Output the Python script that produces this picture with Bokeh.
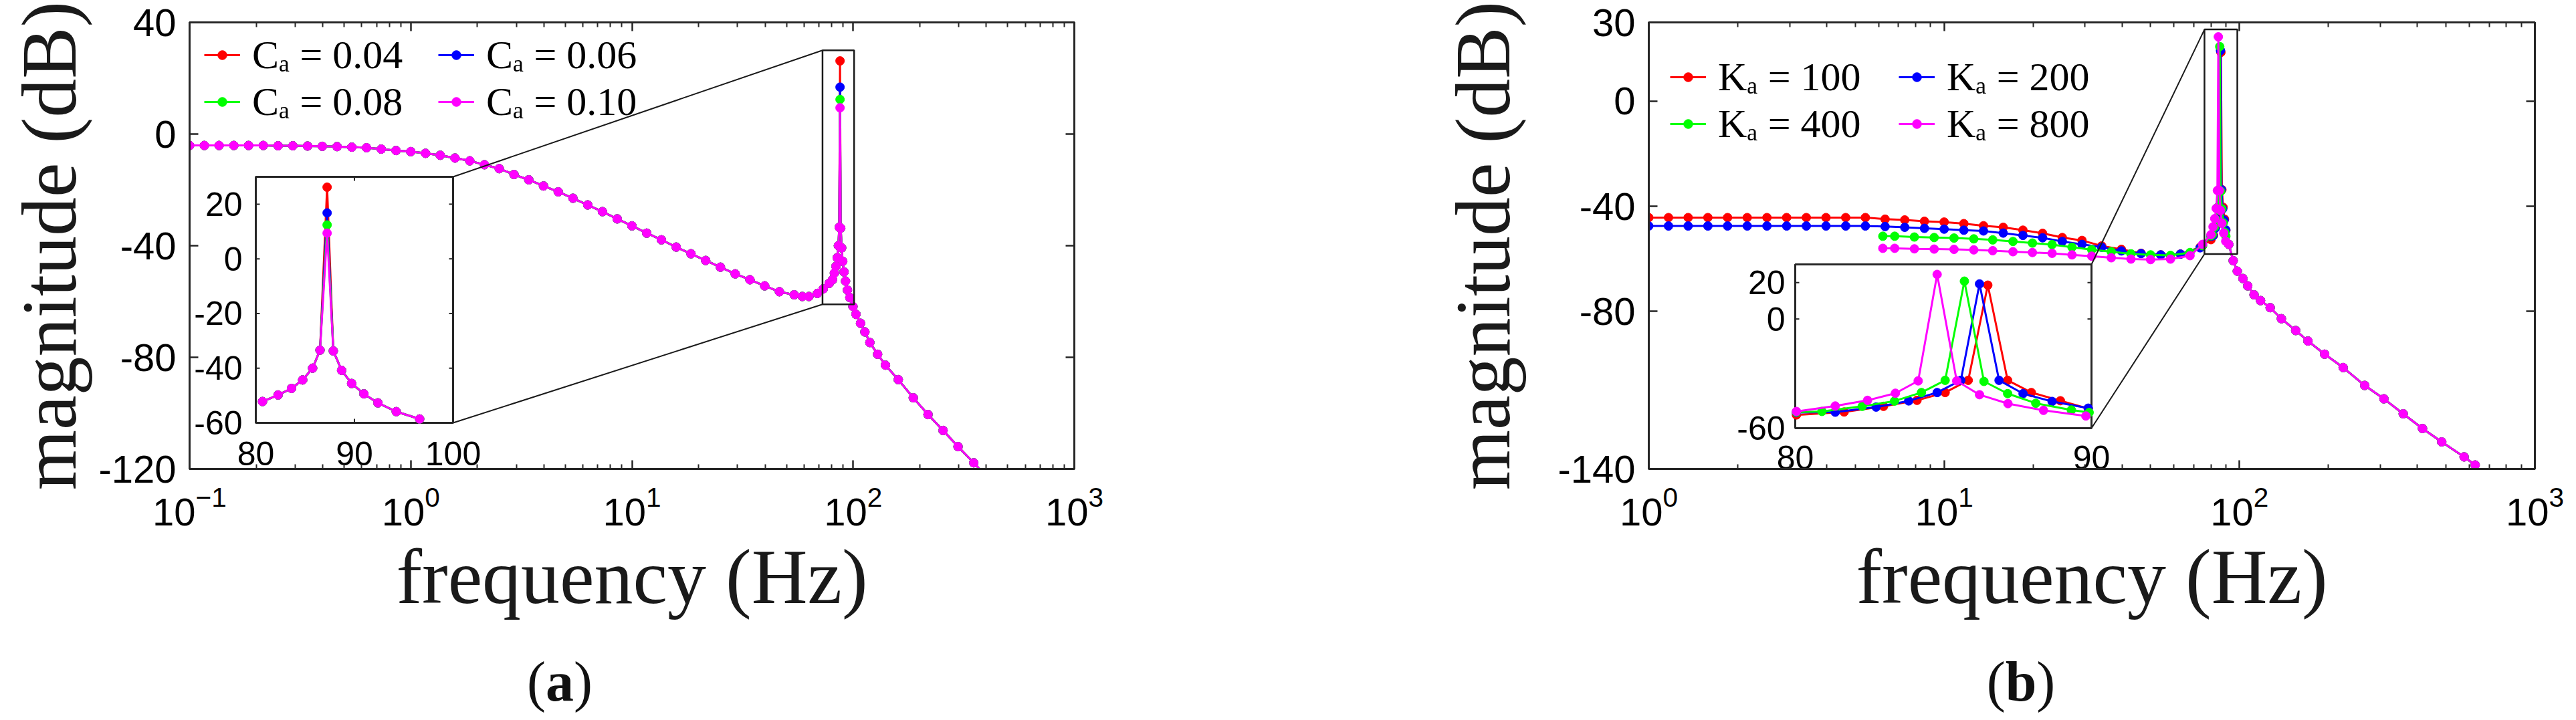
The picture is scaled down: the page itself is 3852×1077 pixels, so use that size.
import math
from bokeh.plotting import figure
from bokeh.models import (Range1d, LinearScale, LinearAxis, FixedTicker, LogTickFormatter,
                          Legend, LegendItem, Div, Spacer, CustomLabelingPolicy)
from bokeh.layouts import row, column
from bokeh.core.properties import value
from bokeh.embed import file_html
from bokeh.resources import INLINE

AX = "#262626"
colors = ["#ff0000", "#0000ff", "#00ff00", "#ff00ff"]

# ---------------- panel (a) data ----------------
labels_a = ["Cₐ = 0.04", "Cₐ = 0.06", "Cₐ = 0.08", "Cₐ = 0.10"]
freq_a = [0.1, 0.1166, 0.1359, 0.1585, 0.1848, 0.2154, 0.2512, 0.2929, 0.3415, 0.3981,
          0.4642, 0.5412, 0.631, 0.7356, 0.8577, 1.0, 1.166, 1.359, 1.585, 1.848,
          2.154, 2.512, 2.929, 3.415, 3.981, 4.642, 5.412, 6.31, 7.356, 8.577,
          10.0, 11.66, 13.59, 15.85, 18.48, 21.54, 25.12, 29.29, 34.15, 39.81,
          46.42, 54.12, 58.9, 63.1, 68.9, 73.2, 77.9,
          80.68, 82.26, 83.62, 84.75, 85.76, 86.51, 87.23, 87.86, 88.7, 89.72, 90.96, 92.38, 94.24, 96.61,
          99.8, 103.0, 108.0, 113.0, 119.0, 129.0, 140.0, 160.0, 187.0, 218.0, 255.0, 298.0, 351.0, 410.0]
mag_a = [-4.1, -4.1, -4.1, -4.1, -4.1, -4.1, -4.2, -4.2, -4.3, -4.4,
         -4.5, -4.7, -4.9, -5.4, -5.9, -6.3, -6.9, -7.6, -8.6, -9.6,
         -11.0, -12.4, -14.5, -16.4, -18.6, -20.7, -23.0, -25.4, -27.8, -30.4,
         -32.9, -35.5, -37.9, -40.5, -42.9, -45.3, -47.7, -50.1, -52.2, -54.4,
         -56.5, -57.6, -58.2, -58.2, -57.1, -55.5, -53.5,
         -52.2, -49.8, -47.4, -44.3, -40.0, -33.4, 9.4, -33.7, -40.8, -45.6, -49.4, -52.7, -55.9, -58.6,
         -61.8, -64.6, -67.8, -70.9, -74.7, -78.9, -82.8, -88.0, -94.5, -100.5, -106.2, -112.0, -117.8, -123.5]
peak_freq_a = 87.23
peaks_a = [26.2, 16.8, 12.4, 9.4]

# ---------------- panel (b) data ----------------
labels_b = ["Kₐ = 100", "Kₐ = 200", "Kₐ = 400", "Kₐ = 800"]
freq_b_grid = [1.0, 1.166, 1.359, 1.585, 1.848, 2.154, 2.512, 2.929, 3.415, 3.981,
               4.642, 5.412, 6.31, 7.356, 8.577, 10.0, 11.66, 13.59, 15.85, 18.48,
               21.54, 25.12, 29.29, 34.15, 39.81, 46.42, 54.12, 63.1, 73.56]
mag_b_red_grid = [-44.3, -44.3, -44.3, -44.3, -44.3, -44.3, -44.3, -44.3, -44.3, -44.3,
                  -44.3, -44.3, -44.9, -45.2, -45.7, -46.0, -46.6, -47.4, -48.0, -49.1,
                  -50.3, -51.9, -53.0, -55.1, -56.4, -57.9, -58.5, -58.2, -55.6]
mag_b_blue_grid = [-47.5, -47.5, -47.5, -47.5, -47.5, -47.5, -47.5, -47.5, -47.5, -47.5,
                   -47.5, -47.5, -47.7, -48.0, -48.4, -48.7, -49.1, -49.4, -50.2, -51.1,
                   -52.0, -53.4, -54.5, -55.6, -57.0, -58.0, -58.5, -58.2, -55.8]
freq_b_grid2 = [6.2, 6.8, 7.93, 9.25, 10.8, 12.6, 14.6, 17.1, 19.9, 23.2,
                27.1, 31.6, 36.8, 42.9, 50.0, 58.4, 68.0, 75.0]
mag_b_green_grid = [-51.4, -51.4, -51.7, -51.9, -52.1, -52.4, -52.8, -53.4, -54.0, -54.6,
                    -55.6, -56.5, -57.3, -58.1, -58.5, -58.7, -57.6, -55.0]
mag_b_magenta_grid = [-56.0, -56.0, -56.2, -56.3, -56.4, -56.6, -56.9, -57.3, -57.6, -57.9,
                      -58.5, -59.0, -59.6, -60.1, -60.3, -60.1, -58.8, -54.5]
freq_b_red_res = [80.04, 81.65, 82.98, 84.11, 85.06, 85.84, 86.50, 87.17, 87.97, 88.95, 89.89]
mag_b_red_res = [-52.7, -51.1, -48.0, -44.7, -40.4, -33.7, 18.6, -33.7, -40.4, -44.9, -49.2]
freq_b_blue_res = [80.04, 81.35, 82.73, 83.83, 84.79, 85.59, 86.22, 86.88, 87.69, 88.67, 89.89]
mag_b_blue_res = [-51.4, -51.2, -48.4, -45.0, -40.4, -33.7, 19.3, -33.7, -41.0, -45.3, -49.0]
freq_b_green_res = [80.04, 80.9, 82.26, 83.35, 84.26, 85.06, 85.71, 86.37, 87.17, 88.12, 89.32, 89.92]
mag_b_green_res = [-51.2, -50.8, -48.0, -45.1, -40.4, -33.7, 20.8, -34.3, -41.0, -46.3, -50.0, -51.4]
freq_b_magenta_res = [80.04, 81.35, 82.44, 83.38, 84.15, 84.79, 85.45, 86.22, 87.18, 88.38, 89.81]
mag_b_magenta_res = [-50.8, -47.8, -44.7, -40.8, -34.0, 24.5, -34.0, -41.6, -46.5, -50.2, -53.3]
freq_b_tail = [92.0, 95.2, 98.3, 102.7, 106.6, 112.0, 117.8, 127.0, 138.6, 155.0,
               170.5, 194.2, 224.4, 265.4, 308.3, 358.3, 416.4, 483.8, 576.0, 628.0]
mag_b_tail = [-54.5, -60.7, -64.7, -67.5, -70.3, -73.7, -75.9, -78.6, -82.8, -87.3,
              -91.3, -96.3, -101.4, -108.2, -113.3, -119.0, -124.6, -129.7, -135.4, -138.5]

# axes / ticks
xlim_a = [0.1, 1000.0]
ylim_a = [-120.0, 40.0]
yticks_a = [-120, -80, -40, 0, 40]
xlim_b = [1.0, 1000.0]
ylim_b = [-140.0, 30.0]
yticks_b = [-140, -80, -40, 0, 30]
inset_xlim_a = [80.0, 100.0]
inset_ylim_a = [-60.0, 30.0]
inset_xticks_a = [80, 90, 100]
inset_xticklabels_a = ["80", "90", "100"]
inset_yticks_a = [-60, -40, -20, 0, 20]
inset_yticklabels_a = ["-60", "-40", "-20", "0", "20"]
inset_xlim_b = [80.0, 90.0]
inset_ylim_b = [-60.0, 30.0]
inset_xticks_b = [80, 90]
inset_xticklabels_b = ["80", "90"]
inset_yticks_b = [-60, 0, 20]
inset_yticklabels_b = ["-60", "0", "20"]
zoom_box_a = [72.7, 101.0, -61.0, 30.0]   # left, right, bottom, top
zoom_box_b = [76.1, 98.3, -58.2, 27.3]

# ---------------- series assembly ----------------
series_a = []
for pk in peaks_a:
    m = list(mag_a)
    m[freq_a.index(peak_freq_a)] = pk
    series_a.append((list(freq_a), m))

series_b = [
    (freq_b_grid + freq_b_red_res + freq_b_tail, mag_b_red_grid + mag_b_red_res + mag_b_tail),
    (freq_b_grid + freq_b_blue_res + freq_b_tail, mag_b_blue_grid + mag_b_blue_res + mag_b_tail),
    (freq_b_grid2 + freq_b_green_res + freq_b_tail, mag_b_green_grid + mag_b_green_res + mag_b_tail),
    (freq_b_grid2 + freq_b_magenta_res + freq_b_tail, mag_b_magenta_grid + mag_b_magenta_res + mag_b_tail),
]


def minors(lo, hi):
    return [m * 10.0 ** e for e in range(lo, hi) for m in range(2, 10)]


HIDE_ALL = "for (const i of indices) { indices.unset(i) }\nreturn indices"


def style_axis(ax, show_labels=True):
    ax.axis_line_color = AX
    ax.axis_line_width = 3
    ax.major_tick_line_color = AX
    ax.major_tick_line_width = 2.5
    ax.minor_tick_line_color = AX
    ax.minor_tick_line_width = 2
    ax.major_tick_in = 13
    ax.major_tick_out = 0
    ax.minor_tick_in = 7
    ax.minor_tick_out = 0
    ax.major_label_text_font = "Liberation Sans"
    ax.major_label_text_color = "black"
    ax.axis_label_text_font = "Liberation Serif"
    ax.axis_label_text_font_size = "116px"
    ax.axis_label_text_font_style = "normal"
    ax.axis_label_text_color = "#1a1a1a"
    if show_labels:
        ax.major_label_text_font_size = "58px"
    else:
        ax.major_label_text_font_size = "1px"
        ax.major_label_standoff = 0
        ax.major_label_policy = CustomLabelingPolicy(code=HIDE_ALL)


def make_panel(cfg, series, labels):
    fl, ft, fw, fh = cfg["frame"]
    W, H = cfg["size"]
    p = figure(width=W, height=H, x_axis_type="log",
               x_range=Range1d(*cfg["xlim"]), y_range=Range1d(*cfg["ylim"]),
               output_backend="svg", toolbar_location=None, title=None,
               min_border_left=fl, min_border_top=ft,
               min_border_right=W - fl - fw, min_border_bottom=H - ft - fh)
    p.xgrid.visible = False
    p.ygrid.visible = False
    p.outline_line_color = AX
    p.outline_line_width = 3
    p.background_fill_color = "white"
    p.border_fill_color = "white"

    lo = int(round(math.log10(cfg["xlim"][0])))
    hi = int(round(math.log10(cfg["xlim"][1])))
    xt = FixedTicker(ticks=[10.0 ** e for e in range(lo, hi + 1)], minor_ticks=minors(lo, hi))
    yt = FixedTicker(ticks=cfg["yticks"], minor_ticks=[])
    xa = p.xaxis[0]
    xa.ticker = xt
    xa.formatter = LogTickFormatter()
    xa.axis_label = "frequency (Hz)"
    style_axis(xa)
    xa.major_label_standoff = 26
    xa.axis_label_standoff = 10
    ya = p.yaxis[0]
    ya.ticker = yt
    ya.major_label_overrides = {t: str(t) for t in cfg["yticks"]}
    ya.axis_label = "magnitude (dB)"
    style_axis(ya)
    ya.major_label_standoff = 20
    ya.axis_label_standoff = cfg["ylab_standoff"]
    top = LinearAxis(ticker=xt)
    style_axis(top, show_labels=False)
    p.add_layout(top, "above")
    right = LinearAxis(ticker=yt)
    style_axis(right, show_labels=False)
    p.add_layout(right, "right")

    # main curves
    rends = []
    for (f, m), c in zip(series, colors):
        ln = p.line(f, m, line_color=c, line_width=3)
        sc = p.scatter(f, m, marker="circle", size=13, fill_color=c, line_color=c)
        rends.append((ln, sc))

    # zoom rectangle on main axes
    zl, zr, zb, zt = cfg["zoom"]
    p.quad(left=[zl], right=[zr], bottom=[zb], top=[zt], fill_alpha=0,
           line_color="#1a1a1a", line_width=2.5)

    # inset geometry (pixels relative to the frame)
    ix0, ix1 = cfg["inset_xlim"]
    iy0, iy1 = cfg["inset_ylim"]
    px0, px1, pt1, pt0 = cfg["inset_px"]   # left, right, top(from top), bottom(from top)
    pb0, pb1 = fh - pt0, fh - pt1           # from bottom
    sx = (ix1 - ix0) / (px1 - px0)
    sy = (iy1 - iy0) / (pb1 - pb0)
    p.extra_x_ranges = {"ix": Range1d(ix0 - px0 * sx, ix0 + (fw - px0) * sx)}
    p.extra_y_ranges = {"iy": Range1d(iy0 - pb0 * sy, iy0 + (fh - pb0) * sy)}
    p.extra_x_scales = {"ix": LinearScale()}
    p.extra_y_scales = {"iy": LinearScale()}

    # connectors from zoom box to inset corners (expressed in main data coords)
    lx0, lx1 = math.log10(cfg["xlim"][0]), math.log10(cfg["xlim"][1])
    def main_x(px):
        return 10 ** (lx0 + px / fw * (lx1 - lx0))
    def main_y(ptop):
        return cfg["ylim"][1] - ptop / fh * (cfg["ylim"][1] - cfg["ylim"][0])
    p.segment(x0=[zl, zl], y0=[zt, zb], x1=[main_x(px1), main_x(px1)],
              y1=[main_y(pt1), main_y(pt0)], line_color="#1a1a1a", line_width=2)

    kw = dict(x_range_name="ix", y_range_name="iy")
    p.quad(left=[ix0], right=[ix1], bottom=[iy0], top=[iy1], fill_color="white",
           line_color=AX, line_width=3, **kw)
    for (f, m), c in zip(series, colors):
        pts = [(a, b) for a, b in zip(f, m) if ix0 <= a <= ix1 and iy0 <= b <= iy1]
        fx = [a for a, _ in pts]
        my = [b for _, b in pts]
        p.line(fx, my, line_color=c, line_width=3, **kw)
        p.scatter(fx, my, marker="circle", size=13, fill_color=c, line_color=c, **kw)

    L = 6
    xs0, ys0, xs1, ys1 = [], [], [], []
    for t in cfg["inset_xticks"]:
        xs0 += [t, t]; xs1 += [t, t]
        ys0 += [iy0, iy1]; ys1 += [iy0 + L * sy, iy1 - L * sy]
    for t in cfg["inset_yticks"]:
        ys0 += [t, t]; ys1 += [t, t]
        xs0 += [ix0, ix1]; xs1 += [ix0 + L * sx, ix1 - L * sx]
    p.segment(x0=xs0, y0=ys0, x1=xs1, y1=ys1, line_color=AX, line_width=2, **kw)
    p.text(x=cfg["inset_xticks"], y=[iy0] * len(cfg["inset_xticks"]), text=cfg["inset_xticklabels"],
           text_font=value("Liberation Sans"), text_font_size=value("50px"), text_color="black",
           text_align="center", text_baseline="middle", y_offset=cfg["inset_xlab_off"], **kw)
    p.text(x=[ix0] * len(cfg["inset_yticks"]), y=cfg["inset_yticks"], text=cfg["inset_yticklabels"],
           text_font=value("Liberation Sans"), text_font_size=value("50px"), text_color="black",
           text_align="right", text_baseline="middle", x_offset=-cfg["inset_ylab_off"], **kw)

    # legends: two columns
    ROW_H = 70
    for col, idxs in enumerate([(0, 2), (1, 3)]):
        items = [LegendItem(label=labels[i], renderers=list(rends[i])) for i in idxs]
        leg = Legend(items=items, location=(cfg["leg_x"][col], fh - cfg["leg_top"] - 2 * ROW_H),
                     orientation="vertical", glyph_width=54, glyph_height=34,
                     label_height=ROW_H, label_width=10, label_standoff=18, spacing=0,
                     padding=0, margin=0, border_line_color=None, background_fill_alpha=0,
                     label_text_font="Liberation Serif", label_text_font_size="60px",
                     label_text_color="black")
        p.add_layout(leg)
    return p


FIG_H = 952
TOP = 33          # frame top within the figure
FH = 668          # frame height
WA = 2145
WB = 3836 - WA
cfg_a = dict(frame=(283, TOP, 1323, FH), size=(WA, FIG_H), xlim=xlim_a, ylim=ylim_a,
             yticks=yticks_a, zoom=zoom_box_a, inset_xlim=inset_xlim_a, inset_ylim=inset_ylim_a,
             inset_px=(99, 394, 231, 599), inset_xticks=inset_xticks_a,
             inset_xticklabels=inset_xticklabels_a, inset_yticks=inset_yticks_a,
             inset_yticklabels=inset_yticklabels_a, inset_xlab_off=46, inset_ylab_off=20,
             leg_x=(22, 372), leg_top=14, ylab_standoff=6)
cfg_b = dict(frame=(320, TOP, 1325, FH), size=(WB, FIG_H), xlim=xlim_b, ylim=ylim_b,
             yticks=yticks_b, zoom=zoom_box_b, inset_xlim=inset_xlim_b, inset_ylim=inset_ylim_b,
             inset_px=(219, 662, 362, 607), inset_xticks=inset_xticks_b,
             inset_xticklabels=inset_xticklabels_b, inset_yticks=inset_yticks_b,
             inset_yticklabels=inset_yticklabels_b, inset_xlab_off=44, inset_ylab_off=15,
             leg_x=(32, 374), leg_top=47, ylab_standoff=44)

pa = make_panel(cfg_a, series_a, labels_a)
pb = make_panel(cfg_b, series_b, labels_b)

CAP_H = 1061 - FIG_H
cap_style = ("font-family:'Liberation Serif';font-size:84px;line-height:84px;"
             "padding-top:21px;text-align:center;color:#111;")
cap_a = Div(text=f'<div style="{cap_style}width:1664px">(<b>a</b>)</div>', width=1664, height=CAP_H)
gap = Spacer(width=1143, height=CAP_H)
cap_b = Div(text=f'<div style="{cap_style}width:400px">(<b>b</b>)</div>', width=400, height=CAP_H)

layout = column(row(pa, pb), row(cap_a, gap, cap_b))
open("out.html", "w").write(file_html(layout, INLINE))
